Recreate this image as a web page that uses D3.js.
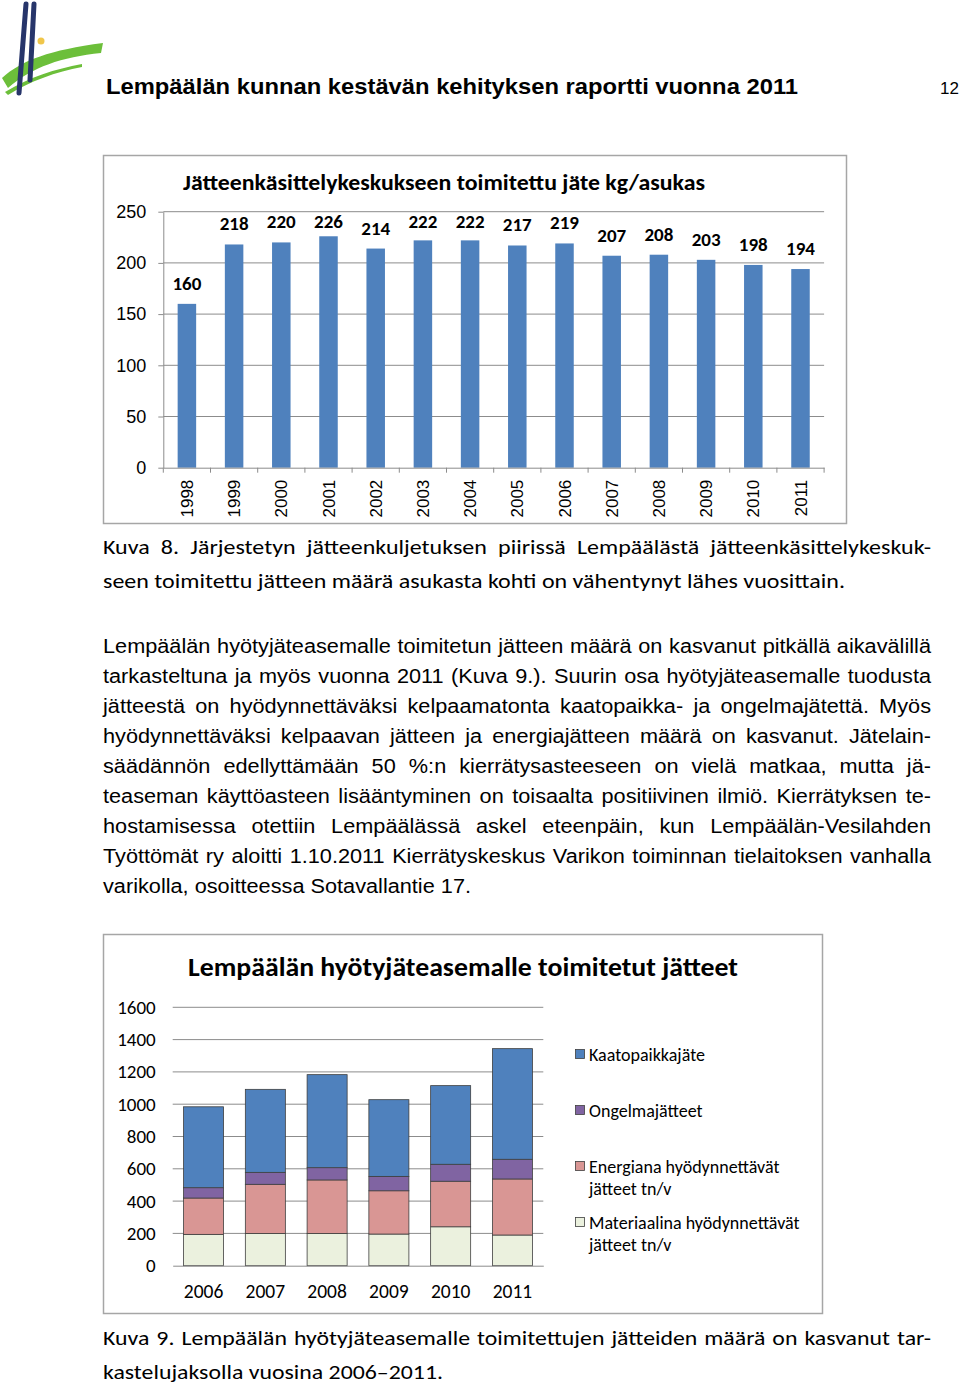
<!DOCTYPE html>
<html>
<head>
<meta charset="utf-8">
<script src="https://cdn.jsdelivr.net/npm/d3@7"></script>
<style>
  body { margin: 0; background: #fff; }
</style>
</head>
<body>
<script>
// ---- chart 1: waste per inhabitant ----
const years1 = ["1998", "1999", "2000", "2001", "2002", "2003", "2004", "2005", "2006", "2007", "2008", "2009", "2010", "2011"];
const kgPerResident = [160, 218, 220, 226, 214, 222, 222, 217, 219, 207, 208, 203, 198, 194];
const ticks1 = [0, 50, 100, 150, 200, 250];

// ---- chart 2: waste brought to the recycling station ----
const years2 = ["2006", "2007", "2008", "2009", "2010", "2011"];
const materiaali = [194, 200, 200, 196, 241, 190];
const energia = [225, 304, 331, 268, 282, 347];
const ongelma = [64, 74, 76, 89, 105, 122];
const kaato = [501, 514, 576, 475, 487, 685];
const ticks2 = [0, 200, 400, 600, 800, 1000, 1200, 1400, 1600];

// ---- page texts ----
const header = "Lempäälän kunnan kestävän kehityksen raportti vuonna 2011";
const pageNo = "12";
const title1 = "Jätteenkäsittelykeskukseen toimitettu jäte kg/asukas";
const title2 = "Lempäälän hyötyjäteasemalle toimitetut jätteet";
const caption1 = [
  "Kuva 8. Järjestetyn jätteenkuljetuksen piirissä Lempäälästä jätteenkäsittelykeskuk-",
  "seen toimitettu jätteen määrä asukasta kohti on vähentynyt lähes vuosittain."
];
const paragraph = [
  "Lempäälän hyötyjäteasemalle toimitetun jätteen määrä on kasvanut pitkällä aikavälillä",
  "tarkasteltuna ja myös vuonna 2011 (Kuva 9.). Suurin osa hyötyjäteasemalle tuodusta",
  "jätteestä on hyödynnettäväksi kelpaamatonta kaatopaikka- ja ongelmajätettä. Myös",
  "hyödynnettäväksi kelpaavan jätteen ja energiajätteen määrä on kasvanut. Jätelain-",
  "säädännön edellyttämään 50 %:n kierrätysasteeseen on vielä matkaa, mutta jä-",
  "teaseman käyttöasteen lisääntyminen on toisaalta positiivinen ilmiö. Kierrätyksen te-",
  "hostamisessa otettiin Lempäälässä askel eteenpäin, kun Lempäälän-Vesilahden",
  "Työttömät ry aloitti 1.10.2011 Kierrätyskeskus Varikon toiminnan tielaitoksen vanhalla",
  "varikolla, osoitteessa Sotavallantie 17."
];
const caption2 = [
  "Kuva 9. Lempäälän hyötyjäteasemalle toimitettujen jätteiden määrä on kasvanut tar-",
  "kastelujaksolla vuosina 2006–2011."
];

const calibri = "Carlito, Lato, 'Open Sans', sans-serif";
const arial = "'Liberation Sans', Arial, sans-serif";
const narrow = "'Liberation Sans Narrow', 'Liberation Sans', Arial, sans-serif";

const svg = d3.select("body")
  .append("svg")
  .attr("width", 960)
  .attr("height", 1386);

// One line of natural text squeezed / stretched to a given width
function fitLine(g, str, x, y, width, family, size, weight) {
  return g.append("text")
    .attr("x", x)
    .attr("y", y)
    .attr("font-family", family)
    .attr("font-size", size)
    .attr("font-weight", weight || "normal")
    .attr("textLength", width)
    .attr("lengthAdjust", "spacingAndGlyphs")
    .text(str);
}

// A justified block: glyph scale taken from the (natural) last line,
// the other lines are spread to the full width by the word gaps
function justifyBlock(g, lines, x0, y0, lineH, width, lastWidth, family, size) {
  const probe = g.append("text")
    .attr("font-family", family)
    .attr("font-size", size)
    .text(lines[lines.length - 1]);
  const f = lastWidth / probe.node().getComputedTextLength();
  probe.remove();

  lines.forEach((line, li) => {
    const last = li === lines.length - 1;
    const target = last ? lastWidth : width;
    const words = line.split(" ");
    const els = words.map((w) =>
      g.append("text")
        .attr("y", y0 + li * lineH)
        .attr("font-family", family)
        .attr("font-size", size)
        .text(w)
    );
    const widths = els.map((e) => e.node().getComputedTextLength() * f);
    const gap = words.length > 1 ? (target - d3.sum(widths)) / (words.length - 1) : 0;
    let x = x0;
    els.forEach((e, i) => {
      e.attr("x", x)
        .attr("textLength", widths[i])
        .attr("lengthAdjust", "spacingAndGlyphs");
      x += widths[i] + gap;
    });
  });
}

// ---- logo ----
const logo = svg.append("g");
logo.append("path")
  .attr("d", "M2,78 C22,60 50,50 103,43 L101,53 C62,57 32,67 8,88 Z")
  .attr("fill", "#6cbf3a");
logo.append("path")
  .attr("d", "M5,92 C30,77 55,69 82,64 L82,67 C56,72 30,81 8,95 Z")
  .attr("fill", "#6cbf3a");
logo.append("circle").attr("cx", 41).attr("cy", 41).attr("r", 3.5).attr("fill", "#f0c64a");
logo.append("line").attr("x1", 26).attr("y1", 4).attr("x2", 19).attr("y2", 93)
  .attr("stroke", "#27356a").attr("stroke-width", 5).attr("stroke-linecap", "round");
logo.append("line").attr("x1", 34).attr("y1", 4).attr("x2", 30).attr("y2", 80)
  .attr("stroke", "#27356a").attr("stroke-width", 5).attr("stroke-linecap", "round");

// ---- page header ----
fitLine(svg, header, 106, 94, 692, arial, 21.5, "bold");
svg.append("text")
  .attr("x", 959).attr("y", 94)
  .attr("text-anchor", "end")
  .attr("font-family", arial)
  .attr("font-size", 17)
  .text(pageNo);

// ================= chart 1 =================
svg.append("rect")
  .attr("x", 103.5).attr("y", 155.5)
  .attr("width", 743).attr("height", 368)
  .attr("fill", "#fff")
  .attr("stroke", "#a6a6a6")
  .attr("stroke-width", 1.5);

const x1 = d3.scaleBand()
  .domain(years1)
  .range([163.3, 824.1])
  .paddingInner(0.608)
  .paddingOuter(0.304);

const y1 = d3.scaleLinear()
  .domain([0, 250])
  .range([467.7, 211.7]);

const c1 = svg.append("g");

// gridlines
c1.append("g")
  .selectAll("line")
  .data(ticks1.slice(1))
  .join("line")
  .attr("x1", x1.range()[0])
  .attr("x2", x1.range()[1])
  .attr("y1", (d) => y1(d))
  .attr("y2", (d) => y1(d))
  .attr("stroke", "#8c8c8c")
  .attr("stroke-width", 1);

// y axis
const yAxis1 = c1.append("g")
  .attr("transform", `translate(${x1.range()[0]},0)`)
  .call(d3.axisLeft(y1).tickValues(ticks1).tickSize(5).tickPadding(12).tickSizeOuter(0));
yAxis1.select(".domain").attr("stroke", "#8c8c8c");
yAxis1.selectAll(".tick line").attr("stroke", "#8c8c8c");
yAxis1.selectAll("text")
  .attr("font-family", arial)
  .attr("font-size", 18)
  .attr("fill", "#000");

// bars
c1.append("g")
  .selectAll("rect")
  .data(years1)
  .join("rect")
  .attr("x", (d) => x1(d))
  .attr("y", (d, i) => y1(kgPerResident[i]))
  .attr("width", x1.bandwidth())
  .attr("height", (d, i) => y1(0) - y1(kgPerResident[i]))
  .attr("fill", "#4f81bd");

// x axis with ticks between categories
const xAxis1 = c1.append("g")
  .attr("transform", `translate(0,${y1(0)})`)
  .call(d3.axisBottom(x1).tickSize(0).tickSizeOuter(0));
xAxis1.select(".domain").attr("stroke", "#8c8c8c");
xAxis1.selectAll("text")
  .attr("font-family", arial)
  .attr("font-size", 17)
  .attr("fill", "#000")
  .attr("text-anchor", "end")
  .attr("transform", "rotate(-90)")
  .attr("x", -12)
  .attr("y", 0)
  .attr("dy", "0.36em");

const half1 = (x1.step() - x1.bandwidth()) / 2;
const bounds1 = years1.map((d) => x1(d) - half1).concat([x1.range()[1]]);
xAxis1.append("g")
  .selectAll("line")
  .data(bounds1)
  .join("line")
  .attr("x1", (d) => d)
  .attr("x2", (d) => d)
  .attr("y1", 0)
  .attr("y2", 5)
  .attr("stroke", "#8c8c8c");

// value labels (kept inside the plot area, like Excel does)
c1.append("g")
  .selectAll("text")
  .data(years1)
  .join("text")
  .attr("x", (d) => x1(d) + x1.bandwidth() / 2)
  .attr("y", (d, i) => Math.max(y1(kgPerResident[i]) - 14, y1(250) + 16))
  .attr("text-anchor", "middle")
  .attr("font-family", calibri)
  .attr("font-size", 19)
  .attr("font-weight", "bold")
  .text((d, i) => kgPerResident[i]);

// title
fitLine(svg, title1, 183, 190, 522, calibri, 23, "bold");

// captions and paragraph
justifyBlock(svg, caption1, 103, 554, 34, 828, 742, calibri, 21);
justifyBlock(svg, paragraph, 103, 653, 30, 828, 368, narrow, 20);

// ================= chart 2 =================
svg.append("rect")
  .attr("x", 103.5).attr("y", 934.5)
  .attr("width", 719).attr("height", 379)
  .attr("fill", "#fff")
  .attr("stroke", "#a6a6a6")
  .attr("stroke-width", 1.5);

fitLine(svg, title2, 188, 976, 550, calibri, 27, "bold");

const x2 = d3.scaleBand()
  .domain(years2)
  .range([172.7, 543.3])
  .paddingInner(0.352)
  .paddingOuter(0.176);

const y2 = d3.scaleLinear()
  .domain([0, 1600])
  .range([1265.7, 1007.3]);

const c2 = svg.append("g");

c2.append("g")
  .selectAll("line")
  .data(ticks2.slice(1))
  .join("line")
  .attr("x1", x2.range()[0])
  .attr("x2", x2.range()[1])
  .attr("y1", (d) => y2(d))
  .attr("y2", (d) => y2(d))
  .attr("stroke", "#8c8c8c")
  .attr("stroke-width", 1);

const yAxis2 = c2.append("g")
  .attr("transform", `translate(${x2.range()[0]},0)`)
  .call(d3.axisLeft(y2).tickValues(ticks2).tickFormat(d3.format("d")).tickSize(0).tickPadding(17));
yAxis2.select(".domain").remove();
yAxis2.selectAll("text")
  .attr("font-family", calibri)
  .attr("font-size", 19)
  .attr("fill", "#000");

const keys = ["materiaali", "energia", "ongelma", "kaato"];
const colors = {
  materiaali: "#ebf1de",
  energia: "#d99694",
  ongelma: "#8064a2",
  kaato: "#4f81bd"
};
const rows = years2.map((y, i) => ({
  year: y,
  materiaali: materiaali[i],
  energia: energia[i],
  ongelma: ongelma[i],
  kaato: kaato[i]
}));
const stacked = d3.stack().keys(keys)(rows);

c2.append("g")
  .selectAll("g")
  .data(stacked)
  .join("g")
  .attr("fill", (s) => colors[s.key])
  .selectAll("rect")
  .data((s) => s)
  .join("rect")
  .attr("x", (d) => x2(d.data.year))
  .attr("y", (d) => y2(d[1]))
  .attr("width", x2.bandwidth())
  .attr("height", (d) => y2(d[0]) - y2(d[1]))
  .attr("stroke", "#3f3f3f")
  .attr("stroke-width", 0.8);

const xAxis2 = c2.append("g")
  .attr("transform", `translate(0,${y2(0)})`)
  .call(d3.axisBottom(x2).tickSize(0).tickPadding(18).tickSizeOuter(0));
xAxis2.select(".domain").attr("stroke", "#8c8c8c");
xAxis2.selectAll("text")
  .attr("font-family", calibri)
  .attr("font-size", 19.5)
  .attr("fill", "#000");

// legend
const legendItems = [
  { key: "kaato", lines: ["Kaatopaikkajäte"], y: 1061 },
  { key: "ongelma", lines: ["Ongelmajätteet"], y: 1117 },
  { key: "energia", lines: ["Energiana hyödynnettävät", "jätteet tn/v"], y: 1173 },
  { key: "materiaali", lines: ["Materiaalina hyödynnettävät", "jätteet tn/v"], y: 1229 }
];
const legend = svg.append("g");
legendItems.forEach((item) => {
  legend.append("rect")
    .attr("x", 575.5).attr("y", item.y - 11.5)
    .attr("width", 9).attr("height", 9)
    .attr("fill", colors[item.key])
    .attr("stroke", "#3f3f3f")
    .attr("stroke-width", 0.8);
  item.lines.forEach((line, j) => {
    legend.append("text")
      .attr("x", 589)
      .attr("y", item.y + j * 22)
      .attr("font-family", calibri)
      .attr("font-size", 18)
      .text(line);
  });
});

justifyBlock(svg, caption2, 103, 1345, 34, 828, 340, calibri, 21);
</script>
</body>
</html>
